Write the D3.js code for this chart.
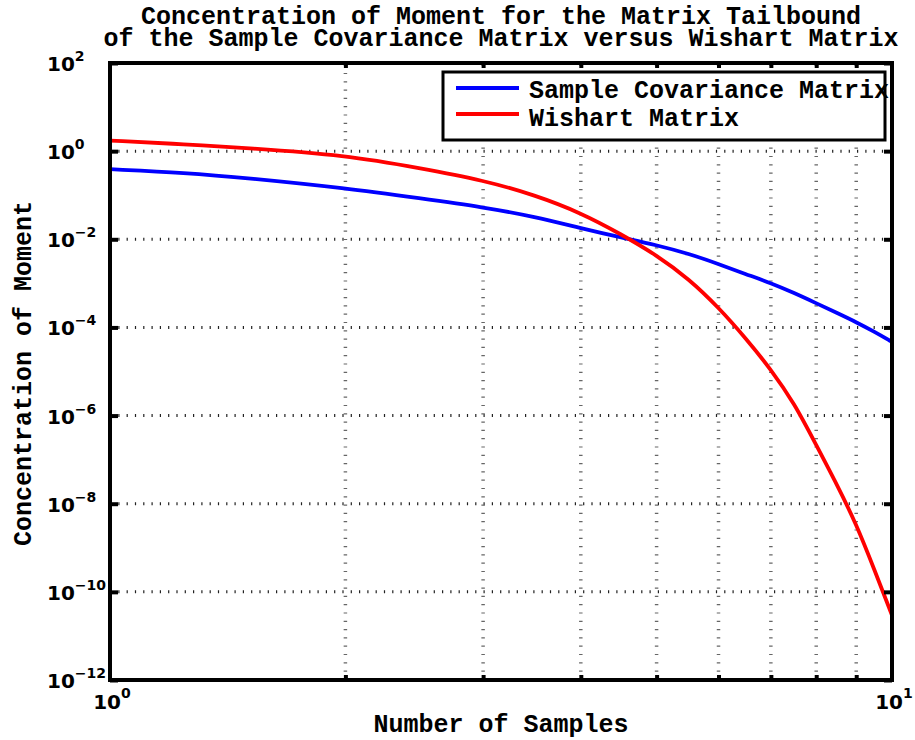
<!DOCTYPE html>
<html>
<head>
<meta charset="utf-8">
<script src="https://cdn.jsdelivr.net/npm/d3@7"></script>
<style>
  body { margin: 0; background: #fff; }
  .mono { font-family: "Liberation Mono", "DejaVu Sans Mono", monospace; font-weight: bold; }
  .tick-label { font-family: "DejaVu Sans", sans-serif; font-weight: bold; }
</style>
</head>
<body>
<svg class="chart"></svg>
<script>
// values
var samples = [1, 1.25, 1.5, 2, 2.5, 3, 3.5, 4, 4.5, 5, 5.5, 6, 6.5, 7, 7.5, 8, 8.5, 9, 9.5, 10];
var sampleCovariance = [0.389, 0.324, 0.245, 0.145, 0.0841, 0.0537, 0.0324, 0.0178, 0.0110,
  0.00741, 0.00468, 0.00275, 0.00162, 0.00102, 6.03e-4, 3.55e-4, 2.14e-4, 1.32e-4,
  7.94e-5, 4.68e-5];
var wishart = [1.74, 1.43, 1.17, 0.813, 0.407, 0.219, 0.100, 0.0398, 0.0132, 0.00437,
  0.00126, 2.85e-4, 5.7e-5, 1.12e-5, 1.9e-6, 2.14e-7, 2.75e-8, 3.47e-9, 3.1e-10,
  2.95e-11];
var seriesNames = ['Sample Covariance Matrix', 'Wishart Matrix'];
var seriesColors = ['#0000ff', '#ff0000'];
var yTickExponents = [2, 0, -2, -4, -6, -8, -10, -12];
var xTickExponents = [0, 1];
var xMinorTicks = [2, 3, 4, 5, 6, 7, 8, 9];
var titleLines = ['Concentration of Moment for the Matrix Tailbound',
  'of the Sample Covariance Matrix versus Wishart Matrix'];
var xLabel = 'Number of Samples';
var yLabel = 'Concentration of Moment';

var chartWidth = 915;
var chartHeight = 740;
var plotLeft = 110;
var plotRight = 892;
var plotTop = 63;
var plotBottom = 680;

var x = d3.scaleLog().domain([1, 10]).range([plotLeft, plotRight]);
var y = d3.scaleLog().domain([1e-12, 1e2]).range([plotBottom, plotTop]);

var yTickValues = yTickExponents.map(e => Math.pow(10, e));

var chart =
    d3.select('.chart').attr('width', chartWidth).attr('height', chartHeight);

// grid lines
chart.append('g')
    .selectAll('line')
    .data(yTickValues.slice(1, -1))
    .join('line')
    .attr('x1', plotLeft)
    .attr('x2', plotRight)
    .attr('y1', d => y(d))
    .attr('y2', d => y(d))
    .style('stroke', '#222')
    .style('stroke-width', 3)
    .style('stroke-dasharray', '1.2,7.1');

chart.append('g')
    .selectAll('line')
    .data(xMinorTicks)
    .join('line')
    .attr('x1', d => x(d))
    .attr('x2', d => x(d))
    .attr('y1', plotBottom)
    .attr('y2', plotTop)
    .style('stroke', '#666')
    .style('stroke-width', 3.5)
    .style('stroke-dasharray', '1.2,7.1');

// curves
chart.append('clipPath')
    .attr('id', 'plotClip')
    .append('rect')
    .attr('x', plotLeft)
    .attr('y', plotTop)
    .attr('width', plotRight - plotLeft)
    .attr('height', plotBottom - plotTop);

var line = d3.line()
    .x(d => x(d[0]))
    .y(d => y(d[1]))
    .curve(d3.curveBasis);

var series = [sampleCovariance, wishart];
chart.append('g')
    .attr('clip-path', 'url(#plotClip)')
    .selectAll('path')
    .data(series)
    .join('path')
    .attr('d', vals => line(samples.map((s, i) => [s, vals[i]])))
    .style('fill', 'none')
    .style('stroke', (d, i) => seriesColors[i])
    .style('stroke-width', 3.8);

// tick marks, pointing inward
function styleTicks(g) {
  g.select('.domain').remove();
  g.selectAll('line').style('stroke', '#000').style('stroke-width', 4);
}

chart.append('g')
    .attr('transform', 'translate(' + plotLeft + ',0)')
    .call(d3.axisRight(y).tickValues(yTickValues).tickSize(8).tickFormat(''))
    .call(styleTicks);
chart.append('g')
    .attr('transform', 'translate(' + plotRight + ',0)')
    .call(d3.axisLeft(y).tickValues(yTickValues).tickSize(8).tickFormat(''))
    .call(styleTicks);
chart.append('g')
    .attr('transform', 'translate(0,' + plotBottom + ')')
    .call(d3.axisTop(x).tickValues(xMinorTicks).tickSize(5).tickFormat(''))
    .call(styleTicks);
chart.append('g')
    .attr('transform', 'translate(0,' + plotTop + ')')
    .call(d3.axisBottom(x).tickValues(xMinorTicks).tickSize(5).tickFormat(''))
    .call(styleTicks);

// axes box
chart.append('rect')
    .attr('x', plotLeft)
    .attr('y', plotTop)
    .attr('width', plotRight - plotLeft)
    .attr('height', plotBottom - plotTop)
    .style('fill', 'none')
    .style('stroke', '#000')
    .style('stroke-width', 4);

// tick labels as 10^n
function expText(e) {
  return e < 0 ? '\u2212' + Math.abs(e) : String(e);
}

var yLabels = chart.append('g')
    .selectAll('text')
    .data(yTickExponents)
    .join('text')
    .attr('class', 'tick-label')
    .attr('x', 47)
    .attr('y', e => y(Math.pow(10, e)) + 8)
    .style('font-size', '20px');
yLabels.append('tspan').text('10');
yLabels.append('tspan')
    .attr('dy', -10)
    .style('font-size', '14px')
    .text(e => expText(e));

var xLabels = chart.append('g')
    .selectAll('text')
    .data(xTickExponents)
    .join('text')
    .attr('class', 'tick-label')
    .attr('x', e => x(Math.pow(10, e)) + 2)
    .attr('y', 709)
    .attr('text-anchor', 'middle')
    .style('font-size', '20px');
xLabels.append('tspan').text('10');
xLabels.append('tspan')
    .attr('dy', -11)
    .style('font-size', '14px')
    .text(e => expText(e));

// title and axis labels
chart.append('g')
    .selectAll('text')
    .data(titleLines)
    .join('text')
    .attr('class', 'mono')
    .attr('x', (plotLeft + plotRight) / 2)
    .attr('y', (d, i) => 24 + i * 22)
    .attr('text-anchor', 'middle')
    .style('font-size', '25px')
    .text(d => d);

chart.append('text')
    .attr('class', 'mono')
    .attr('x', (plotLeft + plotRight) / 2)
    .attr('y', 732)
    .attr('text-anchor', 'middle')
    .style('font-size', '25px')
    .text(xLabel);

chart.append('text')
    .attr('class', 'mono')
    .attr('transform', 'translate(31,' + ((plotTop + plotBottom) / 2 + 2) + ') rotate(-90)')
    .attr('text-anchor', 'middle')
    .style('font-size', '25px')
    .text(yLabel);

// legend
var legend = chart.append('g').attr('transform', 'translate(443,72)');
legend.append('rect')
    .attr('width', 442)
    .attr('height', 68)
    .style('fill', '#fff')
    .style('stroke', '#000')
    .style('stroke-width', 3);

var items = legend.selectAll('g.item')
    .data(seriesNames)
    .join('g')
    .attr('class', 'item')
    .attr('transform', (d, i) => 'translate(0,' + (16 + i * 26) + ')');
items.append('line')
    .attr('x1', 13)
    .attr('x2', 76)
    .style('stroke', (d, i) => seriesColors[i])
    .style('stroke-width', 3.8);
items.append('text')
    .attr('class', 'mono')
    .attr('x', 86)
    .attr('y', (d, i) => 10 + i * 2)
    .style('font-size', '25px')
    .text(d => d);
</script>
</body>
</html>
